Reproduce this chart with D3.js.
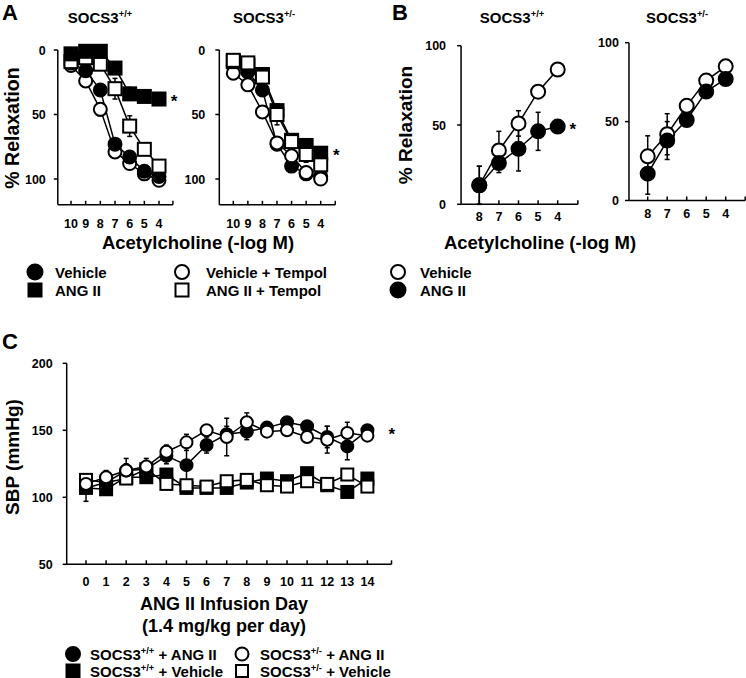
<!DOCTYPE html>
<html>
<head>
<meta charset="utf-8">
<script src="https://cdn.jsdelivr.net/npm/d3@7"></script>
<style>
  body { margin: 0; background: #fff; }
  svg text { font-family: Arial, "Liberation Sans", sans-serif; font-weight: bold; fill: #000; }
</style>
</head>
<body>
<div id="chart"></div>
<script>
const width = 746, height = 678;

// ---- data ----
const concA = [10, 9, 8, 7, 6, 5, 4];
const concB = [8, 7, 6, 5, 4];
const days = [0, 1, 2, 3, 4, 5, 6, 7, 8, 9, 10, 11, 12, 13, 14];

// panel A, SOCS3+/+
const aWtVehicle = [10, 16, 31, 73, 83, 94, 98];
const aWtVehicleErr = [2, 3, 4, 3, 4, 2, 2];
const aWtAng = [3, 1, 1, 14, 34, 36, 38];
const aWtAngErr = [2, 2, 2, 3, 5, 3, 2];
const aWtVehTempol = [12, 24, 46, 79, 88, 96, 101];
const aWtVehTempolErr = [2, 2, 5, 2, 2, 2, 2];
const aWtAngTempol = [9, 6, 11, 30, 59, 77, 90];
const aWtAngTempolErr = [3, 3, 4, 8, 8, 3, 3];

// panel A, SOCS3+/-
const aHetVehicle = [12, 17, 31, 73, 90, 96, 98];
const aHetVehicleErr = [2, 3, 4, 3, 2, 2, 2];
const aHetAng = [9, 12, 19, 47, 70, 74, 80];
const aHetAngErr = [2, 2, 3, 5, 3, 3, 3];
const aHetVehTempol = [18, 27, 48, 72, 82, 95, 100];
const aHetVehTempolErr = [2, 2, 3, 2, 2, 2, 2];
const aHetAngTempol = [8, 10, 21, 50, 71, 81, 89];
const aHetAngTempolErr = [2, 2, 3, 8, 4, 6, 3];

// panel B
const bWtVehicle = [12, 34, 51, 71, 85];
const bWtVehicleErr = [12, 12, 8, 3, 2];
const bWtAng = [12, 26, 35, 46, 49];
const bWtAngErr = [12, 6, 14, 12, 2];
const bHetVehicle = [28, 42, 60, 76, 85];
const bHetVehicleErr = [13, 13, 4, 3, 2];
const bHetAng = [17, 38, 51, 69, 77];
const bHetAngErr = [13, 12, 3, 2, 2];

// panel C
const cWtAng = [107, 111, 120, 121, 131, 124, 139, 147, 149, 152, 156, 153, 145, 138, 150];
const cWtAngErr = [10, 3, 5, 3, 6, 14, 6, 6, 6, 3, 3, 4, 8, 10, 3];
const cHetAng = [110, 115, 120, 123, 134, 141, 150, 145, 156, 149, 150, 145, 143, 148, 146];
const cHetAngErr = [3, 5, 9, 6, 5, 6, 3, 14, 7, 3, 3, 4, 10, 8, 2];
const cWtVeh = [107, 106, 115, 115, 117, 107, 107, 107, 111, 114, 112, 118, 109, 104, 114];
const cWtVehErr = [4, 3, 3, 3, 3, 3, 2, 2, 2, 2, 2, 3, 2, 3, 2];
const cHetVeh = [113, 111, 114, 121, 110, 109, 108, 112, 113, 109, 108, 112, 110, 117, 108];
const cHetVehErr = [3, 3, 3, 4, 4, 4, 2, 2, 2, 2, 4, 2, 2, 3, 2];

const yTicksA = [0, 50, 100], yTicksB = [0, 50, 100], yTicksC = [50, 100, 150, 200];

const svg = d3.select('#chart').append('svg')
    .attr('width', width)
    .attr('height', height);

// draws a text with a superscript part, e.g. SOCS3 + "+/+"
function supText(g, x, y, base, sup, rest, size, anchor) {
  const t = g.append('text')
      .attr('x', x).attr('y', y)
      .attr('font-size', size)
      .attr('text-anchor', anchor || 'start');
  t.append('tspan').text(base);
  t.append('tspan').attr('dy', -size * 0.38).attr('font-size', size * 0.62).text(sup);
  if (rest) t.append('tspan').attr('dy', size * 0.38).text(rest);
  return t;
}

function marker(sel, shape, filled, size) {
  if (shape === 'circle') {
    sel.append('circle').attr('r', size / 2);
  } else {
    sel.append('rect')
      .attr('x', -size / 2).attr('y', -size / 2)
      .attr('width', size).attr('height', size);
  }
  sel.selectAll('circle, rect')
    .attr('fill', filled ? '#000' : '#fff')
    .attr('stroke', '#000')
    .attr('stroke-width', 2);
}

function panel(cfg) {
  const g = svg.append('g');
  const x = d3.scaleLinear().domain(cfg.xDomain).range(cfg.xRange);
  const y = d3.scaleLinear().domain(cfg.yDomain).range(cfg.yRange);
  const x0 = x(cfg.xAxisEnds[0]), x1 = x(cfg.xAxisEnds[1]);
  const yBot = y(cfg.yAxisEnds[0]), yTop = y(cfg.yAxisEnds[1]);

  // axes
  g.append('line').attr('x1', x0).attr('x2', x0).attr('y1', yTop).attr('y2', yBot)
    .attr('stroke', '#000').attr('stroke-width', 1.5);
  g.append('line').attr('x1', x0).attr('x2', x1).attr('y1', yBot).attr('y2', yBot)
    .attr('stroke', '#000').attr('stroke-width', 1.5);

  cfg.yTicks.forEach(v => {
    g.append('line').attr('x1', x0 - 4).attr('x2', x0).attr('y1', y(v)).attr('y2', y(v))
      .attr('stroke', '#000').attr('stroke-width', 1.5);
    g.append('text').attr('x', x0 - cfg.yLabelGap).attr('y', y(v) + 4.5)
      .attr('text-anchor', 'end').attr('font-size', 12.5).text(v);
  });
  cfg.xTicks.forEach(v => {
    g.append('line').attr('x1', x(v)).attr('x2', x(v)).attr('y1', yBot - 4).attr('y2', yBot)
      .attr('stroke', '#000').attr('stroke-width', 1.5);
    g.append('text').attr('x', x(v)).attr('y', yBot + cfg.xLabelGap)
      .attr('text-anchor', 'middle').attr('font-size', 12.5).text(v);
  });
  // end tick of x axis
  g.append('line').attr('x1', x1).attr('x2', x1).attr('y1', yBot - 4).attr('y2', yBot)
    .attr('stroke', '#000').attr('stroke-width', 1.5);

  const line = d3.line().x(d => x(d[0])).y(d => y(d[1]));

  cfg.series.forEach(s => {
    const pts = cfg.xTicks.map((v, i) => [v, s.values[i], s.err[i]]);
    g.append('path').datum(pts).attr('d', line)
      .attr('fill', 'none').attr('stroke', '#000').attr('stroke-width', 1.5);
    const eb = g.append('g');
    pts.forEach(p => {
      eb.append('line').attr('x1', x(p[0])).attr('x2', x(p[0]))
        .attr('y1', y(p[1] - p[2])).attr('y2', y(p[1] + p[2]))
        .attr('stroke', '#000').attr('stroke-width', 1.5);
      [p[1] - p[2], p[1] + p[2]].forEach(e => {
        eb.append('line').attr('x1', x(p[0]) - 2.5).attr('x2', x(p[0]) + 2.5)
          .attr('y1', y(e)).attr('y2', y(e))
          .attr('stroke', '#000').attr('stroke-width', 1.5);
      });
    });
  });
  cfg.series.forEach(s => {
    const pts = cfg.xTicks.map((v, i) => [v, s.values[i]]);
    pts.forEach(p => {
      const m = g.append('g').attr('transform', `translate(${x(p[0])},${y(p[1])})`);
      marker(m, s.shape, s.filled, cfg.markerSize);
    });
  });

  if (cfg.star) {
    g.append('text').attr('x', x(cfg.star[0])).attr('y', y(cfg.star[1]) + 8)
      .attr('font-size', 17).attr('font-weight', 'normal').text('*');
  }
  return { x, y };
}

// ---- panel A ----
panel({
  xDomain: [10, 4], xRange: [71, 159], xAxisEnds: [10.9, 3.05], xTicks: concA, xLabelGap: 23,
  yDomain: [0, 100], yRange: [50, 179], yAxisEnds: [120, 0], yTicks: yTicksA, yLabelGap: 12,
  markerSize: 13, star: [3.2, 38],
  series: [
    { values: aWtVehTempol, err: aWtVehTempolErr, shape: 'circle', filled: false },
    { values: aWtVehicle, err: aWtVehicleErr, shape: 'circle', filled: true },
    { values: aWtAngTempol, err: aWtAngTempolErr, shape: 'square', filled: false },
    { values: aWtAng, err: aWtAngErr, shape: 'square', filled: true }
  ]
});
panel({
  xDomain: [10, 4], xRange: [233.3, 320.7], xAxisEnds: [10.96, 3.0], xTicks: concA, xLabelGap: 23,
  yDomain: [0, 100], yRange: [50, 179], yAxisEnds: [120, 0], yTicks: yTicksA, yLabelGap: 14,
  markerSize: 13, star: [3.15, 80],
  series: [
    { values: aHetVehicle, err: aHetVehicleErr, shape: 'circle', filled: true },
    { values: aHetVehTempol, err: aHetVehTempolErr, shape: 'circle', filled: false },
    { values: aHetAng, err: aHetAngErr, shape: 'square', filled: true },
    { values: aHetAngTempol, err: aHetAngTempolErr, shape: 'square', filled: false }
  ]
});

// ---- panel B ----
panel({
  xDomain: [8, 4], xRange: [479.3, 557.7], xAxisEnds: [8.93, 2.97], xTicks: concB, xLabelGap: 17,
  yDomain: [0, 100], yRange: [204.3, 45.7], yAxisEnds: [0, 100], yTicks: yTicksB, yLabelGap: 15,
  markerSize: 14, star: [3.4, 49],
  series: [
    { values: bWtVehicle, err: bWtVehicleErr, shape: 'circle', filled: false },
    { values: bWtAng, err: bWtAngErr, shape: 'circle', filled: true }
  ]
});
panel({
  xDomain: [8, 4], xRange: [647.7, 725.7], xAxisEnds: [8.96, 3.0], xTicks: concB, xLabelGap: 17,
  yDomain: [0, 100], yRange: [200.5, 42.7], yAxisEnds: [0, 100], yTicks: yTicksB, yLabelGap: 10,
  markerSize: 14,
  series: [
    { values: bHetVehicle, err: bHetVehicleErr, shape: 'circle', filled: false },
    { values: bHetAng, err: bHetAngErr, shape: 'circle', filled: true }
  ]
});

// ---- panel C ----
panel({
  xDomain: [0, 14], xRange: [86, 367.4], xAxisEnds: [-0.96, 15.2], xTicks: days, xLabelGap: 22,
  yDomain: [50, 200], yRange: [564.3, 363.3], yAxisEnds: [50, 200], yTicks: yTicksC, yLabelGap: 14,
  markerSize: 12, star: [15.05, 149],
  series: [
    { values: cWtVeh, err: cWtVehErr, shape: 'square', filled: true },
    { values: cHetVeh, err: cHetVehErr, shape: 'square', filled: false },
    { values: cWtAng, err: cWtAngErr, shape: 'circle', filled: true },
    { values: cHetAng, err: cHetAngErr, shape: 'circle', filled: false }
  ]
});

// ---- labels ----
const lab = svg.append('g');
lab.append('text').attr('x', 2).attr('y', 20).attr('font-size', 22).text('A');
lab.append('text').attr('x', 392).attr('y', 20).attr('font-size', 22).text('B');
lab.append('text').attr('x', 2).attr('y', 349).attr('font-size', 22).text('C');

supText(lab, 100, 23, 'SOCS3', '+/+', null, 15, 'middle');
supText(lab, 264, 23, 'SOCS3', '+/-', null, 15, 'middle');
supText(lab, 512, 23, 'SOCS3', '+/+', null, 15, 'middle');
supText(lab, 677, 23, 'SOCS3', '+/-', null, 15, 'middle');

lab.append('text').attr('transform', 'translate(19,128) rotate(-90)')
  .attr('text-anchor', 'middle').attr('font-size', 19.5).text('% Relaxation');
lab.append('text').attr('transform', 'translate(412,125) rotate(-90)')
  .attr('text-anchor', 'middle').attr('font-size', 19).text('% Relaxation');
lab.append('text').attr('transform', 'translate(19,457) rotate(-90)')
  .attr('text-anchor', 'middle').attr('font-size', 19).text('SBP (mmHg)');

lab.append('text').attr('x', 198).attr('y', 249).attr('text-anchor', 'middle')
  .attr('font-size', 18.5).text('Acetylcholine (-log M)');
lab.append('text').attr('x', 540).attr('y', 249).attr('text-anchor', 'middle')
  .attr('font-size', 18.5).text('Acetylcholine (-log M)');
lab.append('text').attr('x', 224).attr('y', 610).attr('text-anchor', 'middle')
  .attr('font-size', 18).text('ANG II Infusion Day');
lab.append('text').attr('x', 224).attr('y', 632).attr('text-anchor', 'middle')
  .attr('font-size', 18).text('(1.4 mg/kg per day)');

// ---- legends ----
function legendItem(mx, my, tx, shape, filled, size, label) {
  const m = svg.append('g').attr('transform', `translate(${mx},${my})`);
  marker(m, shape, filled, size);
  if (typeof label === 'string') {
    svg.append('text').attr('x', tx).attr('y', my + 5.5).attr('font-size', 15).text(label);
  } else {
    supText(svg, tx, my + 5.5, label[0], label[1], label[2], 15, 'start');
  }
}
legendItem(35, 272, 55, 'circle', true, 15, 'Vehicle');
legendItem(35, 290, 55, 'square', true, 13, 'ANG II');
legendItem(182, 272, 206, 'circle', false, 14, 'Vehicle + Tempol');
legendItem(182, 290, 206, 'square', false, 13, 'ANG II + Tempol');

legendItem(398, 272, 420, 'circle', false, 14, 'Vehicle');
legendItem(398, 290, 420, 'circle', true, 15, 'ANG II');

legendItem(73, 654, 90, 'circle', true, 14, ['SOCS3', '+/+', ' + ANG II']);
legendItem(73, 671, 90, 'square', true, 13, ['SOCS3', '+/+', ' + Vehicle']);
legendItem(242, 654, 260, 'circle', false, 13, ['SOCS3', '+/-', ' + ANG II']);
legendItem(242, 671, 260, 'square', false, 12, ['SOCS3', '+/-', ' + Vehicle']);
</script>
</body>
</html>
